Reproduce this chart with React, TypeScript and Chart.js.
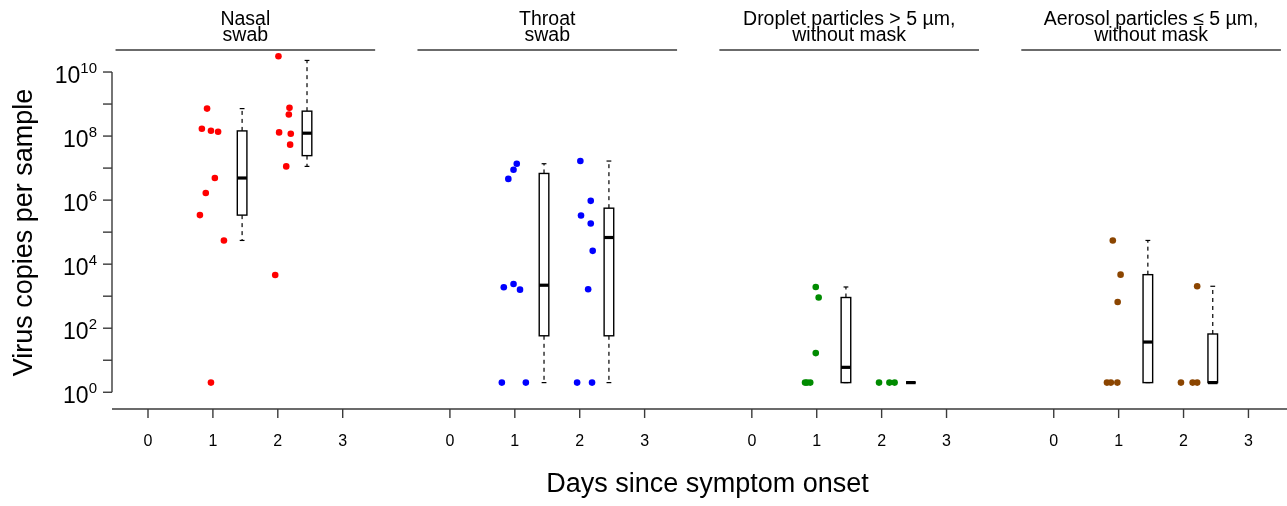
import React, { useEffect, useRef } from "react";
import { Chart, registerables } from "chart.js";

Chart.register(...registerables);

// ---------- data ----------
const panelTitles: string[][] = [
  ["Nasal", "swab"],
  ["Throat", "swab"],
  ["Droplet particles > 5 µm,", "without mask"],
  ["Aerosol particles \u2264 5 µm,", "without mask"],
];
const panelColors = ["#ff0000", "#0000ff", "#008b00", "#8b4500"];
const dayTicks = [0, 1, 2, 3];
const yTickExponents = [0, 1, 2, 3, 4, 5, 6, 7, 8, 9, 10];
const yLabelExponents = [0, 2, 4, 6, 8, 10];
const boxDays = [1, 2];

// jittered day positions and virus copies per sample
const nasalX = [0.91, 0.83, 0.97, 1.08, 1.03, 0.89, 0.8, 1.17, 0.97, 2.01, 2.18, 2.17, 2.02, 2.2, 2.19, 2.13, 1.96];
const nasalCopies = [7.2e8, 1.7e8, 1.46e8, 1.36e8, 4.9e6, 1.67e6, 3.4e5, 5.5e4, 2, 3.1e10, 7.6e8, 4.7e8, 1.3e8, 1.18e8, 5.4e7, 1.13e7, 4.6e3];

const throatX = [1.03, 0.98, 0.9, 0.83, 0.98, 1.08, 0.8, 1.17, 2.01, 2.17, 2.02, 2.17, 2.2, 2.13, 1.96, 2.19];
const throatCopies = [1.37e7, 8.9e6, 4.6e6, 1.9e3, 2.4e3, 1.6e3, 2, 2, 1.66e7, 9.5e5, 3.3e5, 1.86e5, 2.6e4, 1.65e3, 2, 2];

const dropletX = [0.985, 1.03, 0.985, 0.82, 0.85, 0.9, 1.96, 2.12, 2.2];
const dropletCopies = [1.94e3, 910, 16.7, 2, 2, 2, 2, 2, 2];

const aerosolX = [0.91, 1.03, 0.985, 0.82, 0.88, 0.98, 2.21, 1.96, 2.14, 2.21];
const aerosolCopies = [5.5e4, 4.7e3, 660, 2, 2, 2, 2.04e3, 2, 2, 2];

// box stats: [lower whisker, Q1, median, Q3, upper whisker] for day 1 and day 2
const nasalBoxes = [
  [5.5e4, 3.4e5, 4.9e6, 1.45e8, 7.2e8],
  [1.13e7, 2.45e7, 1.23e8, 6.0e8, 2.3e10],
];
const throatBoxes = [
  [2, 58, 2.2e3, 6.8e6, 1.37e7],
  [2, 58, 6.8e4, 5.6e5, 1.66e7],
];
const dropletBoxes = [
  [2, 2, 6, 910, 1.94e3],
  [2, 2, 2, 2, 2],
];
const aerosolBoxes = [
  [2, 2, 37, 4.7e3, 5.5e4],
  [2, 2, 2, 66, 2.04e3],
];

const panelXs = [nasalX, throatX, dropletX, aerosolX];
const panelCopies = [nasalCopies, throatCopies, dropletCopies, aerosolCopies];
const panelBoxes = [nasalBoxes, throatBoxes, dropletBoxes, aerosolBoxes];

// ---------- layout constants ----------
const PANEL_OFFSET = 4.652;
const BOX_SHIFT = 0.45;
const BOX_HALF = 0.074;
const FONT = '"Liberation Sans", Arial, Helvetica, sans-serif';
const AXIS_COLOR = "#3a3a3a";

const overlayPlugin = {
  id: "overlay",
  afterDatasetsDraw(chart: any) {
    const { ctx, chartArea, scales } = chart;
    const x = scales.x;
    const y = scales.y;
    ctx.save();

    const line = (x1: number, y1: number, x2: number, y2: number) => {
      ctx.beginPath();
      ctx.moveTo(x1, y1);
      ctx.lineTo(x2, y2);
      ctx.stroke();
    };

    // box plots
    panelBoxes.forEach((boxes, p) => {
      boxes.forEach((b, i) => {
        const c = p * PANEL_OFFSET + boxDays[i] + BOX_SHIFT;
        const xl = x.getPixelForValue(c - BOX_HALF);
        const xr = x.getPixelForValue(c + BOX_HALF);
        const xc = x.getPixelForValue(c);
        const [lo, q1, med, q3, hi] = b.map((v) => y.getPixelForValue(v));
        const capHalf = (xr - xl) / 4;
        ctx.strokeStyle = "#000";
        ctx.lineWidth = 1.2;
        ctx.setLineDash([4, 4]);
        if (q3 - hi > 1) line(xc, q3, xc, hi);
        if (lo - q1 > 1) line(xc, q1, xc, lo);
        ctx.setLineDash([]);
        line(xc - capHalf, hi, xc + capHalf, hi);
        line(xc - capHalf, lo, xc + capHalf, lo);
        ctx.fillStyle = "#fff";
        ctx.fillRect(xl, q3, xr - xl, q1 - q3);
        ctx.lineWidth = 1.4;
        ctx.strokeRect(xl, q3, xr - xl, q1 - q3);
        ctx.lineWidth = 3.2;
        line(xl, med, xr, med);
      });
    });

    // y axis
    ctx.strokeStyle = AXIS_COLOR;
    ctx.lineWidth = 1.4;
    const ax = chartArea.left;
    line(ax, y.getPixelForValue(1), ax, y.getPixelForValue(1e10));
    yTickExponents.forEach((k) => {
      const py = y.getPixelForValue(Math.pow(10, k));
      line(ax - 9, py, ax, py);
    });
    ctx.fillStyle = "#000";
    ctx.textBaseline = "alphabetic";
    ctx.textAlign = "left";
    yLabelExponents.forEach((k) => {
      const py = y.getPixelForValue(Math.pow(10, k));
      ctx.font = `15px ${FONT}`;
      const sup = String(k);
      const ws = ctx.measureText(sup).width;
      ctx.font = `23px ${FONT}`;
      const wb = ctx.measureText("10").width;
      const right = 97;
      ctx.fillText("10", right - ws - wb, py + 11);
      ctx.font = `15px ${FONT}`;
      ctx.fillText(sup, right - ws, py + 0.5);
    });

    // x axis
    const by = chartArea.bottom;
    line(chartArea.left, by, chartArea.right, by);
    ctx.font = `16px ${FONT}`;
    ctx.textAlign = "center";
    for (let p = 0; p < 4; p++) {
      dayTicks.forEach((d) => {
        const px = x.getPixelForValue(p * PANEL_OFFSET + d);
        line(px, by, px, by + 9);
        ctx.fillText(String(d), px, 446);
      });
      // panel header line + title
      const x1 = x.getPixelForValue(p * PANEL_OFFSET - 0.5);
      const x2 = x.getPixelForValue(p * PANEL_OFFSET + 3.5);
      line(x1, 50, x2, 50);
      const xm = x.getPixelForValue(p * PANEL_OFFSET + 1.5);
      ctx.font = `19.5px ${FONT}`;
      ctx.fillText(panelTitles[p][0], xm, 25);
      ctx.fillText(panelTitles[p][1], xm, 40.7);
      ctx.font = `16px ${FONT}`;
    }

    // axis titles
    ctx.font = `27px ${FONT}`;
    ctx.fillText("Days since symptom onset", 707.5, 492);
    ctx.save();
    ctx.translate(32, 232.5);
    ctx.rotate(-Math.PI / 2);
    ctx.fillText("Virus copies per sample", 0, 0);
    ctx.restore();

    ctx.restore();
  },
};

export default function App() {
  const canvasRef = useRef<HTMLCanvasElement | null>(null);

  useEffect(() => {
    document.body.style.margin = "0";
    const canvas = canvasRef.current;
    if (!canvas) return;
    const datasets = panelXs.map((xs, p) => ({
      label: panelTitles[p].join(" "),
      data: xs.map((d, i) => ({ x: p * PANEL_OFFSET + d, y: panelCopies[p][i] })),
      backgroundColor: panelColors[p],
      borderWidth: 0,
      pointRadius: 3.3,
    }));
    const chart = new Chart(canvas, {
      type: "scatter",
      data: { datasets },
      options: {
        animation: false,
        responsive: false,
        devicePixelRatio: 1,
        layout: { autoPadding: false, padding: { left: 112, right: 0, top: 40, bottom: 97 } },
        plugins: { legend: { display: false }, tooltip: { enabled: false } },
        scales: {
          x: { type: "linear", min: -0.5547, max: 17.55, display: false },
          y: { type: "logarithmic", min: 0.3245, max: 1e11, display: false },
        },
      },
      plugins: [overlayPlugin],
    });
    return () => chart.destroy();
  }, []);

  return (
    <div style={{ width: 1287, height: 506, background: "#fff" }}>
      <canvas ref={canvasRef} width={1287} height={506} style={{ display: "block" }} />
    </div>
  );
}
